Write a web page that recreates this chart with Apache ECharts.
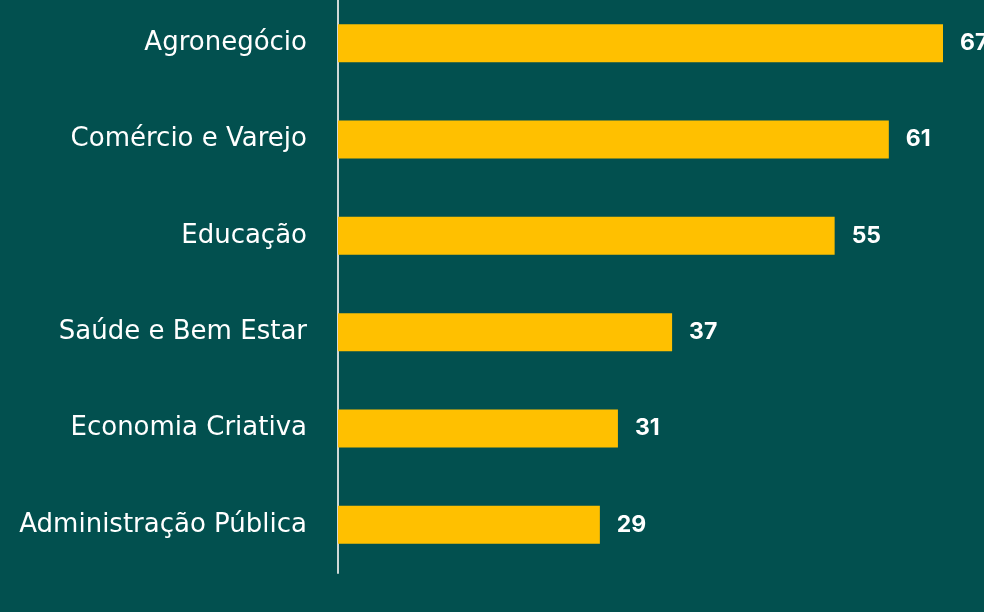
<!DOCTYPE html>
<html>
<head>
<meta charset="utf-8">
<style>
  html, body { margin: 0; padding: 0; background: #02504f; }
  #barChart { width: 984px; height: 612px; }
</style>
<script src="https://cdn.jsdelivr.net/npm/echarts@6/dist/echarts.min.js"></script>
</head>
<body>
<div id="barChart"></div>
<script>
  // setores e quantidades
  const categories = ["Agronegócio", "Comércio e Varejo", "Educação", "Saúde e Bem Estar", "Economia Criativa", "Administração Pública"];
  const values = [67, 61, 55, 37, 31, 29];

  const myChart = echarts.init(document.getElementById("barChart"));
  const option = {
    backgroundColor: "#02504f",
    grid: { left: 338, right: 41, top: -5, bottom: 39, containLabel: false, outerBoundsMode: "none" },
    xAxis: {
      type: "value",
      min: 0,
      max: 67,
      show: false
    },
    yAxis: {
      type: "category",
      inverse: true,
      data: categories,
      axisLine: { show: true, lineStyle: { color: "#cfd8d6", width: 2 } },
      axisTick: { show: false },
      axisLabel: {
        color: "#ffffff",
        fontFamily: "DejaVu Sans",
        fontSize: 26,
        margin: 31,
        padding: [2, 0, 0, 0]
      }
    },
    series: [{
      type: "bar",
      data: values,
      barWidth: 38,
      itemStyle: { color: "#ffc000" },
      label: {
        show: true,
        position: "right",
        distance: 17,
        color: "#ffffff",
        fontFamily: "Inter",
        fontSize: 23,
        fontWeight: "bold",
        padding: [4, 0, 0, 0]
      }
    }]
  };
  myChart.clear();
  myChart.setOption(option);
</script>
</body>
</html>
